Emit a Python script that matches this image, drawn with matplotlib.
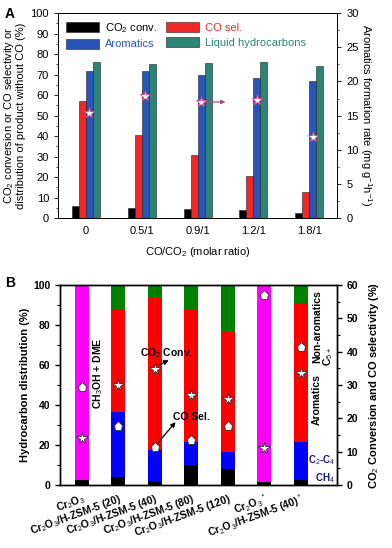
import matplotlib
matplotlib.use("Agg")
import matplotlib.pyplot as plt
import numpy as np
from matplotlib.ticker import MultipleLocator

plt.rcParams['font.family'] = ['Liberation Sans', 'DejaVu Sans']
plt.rcParams['mathtext.fontset'] = 'custom'
plt.rcParams['mathtext.rm'] = 'Liberation Sans'
plt.rcParams['mathtext.bf'] = 'Liberation Sans:bold'

# ---- panel A data ----
ratios = ['0', '0.5/1', '0.9/1', '1.2/1', '1.8/1']
co2_conv = [5.9, 4.9, 4.2, 3.9, 2.4]
co_sel = [57.0, 40.5, 30.6, 20.5, 12.7]
aromatics = [71.7, 71.6, 69.8, 68.3, 66.8]
liquid = [76.0, 75.4, 75.6, 76.0, 74.2]
arom_rate = [15.4, 17.8, 17.0, 17.3, 11.9]

# ---- panel B data ----
catalysts = ['Cr$_2$O$_3$', 'Cr$_2$O$_3$/H-ZSM-5 (20)', 'Cr$_2$O$_3$/H-ZSM-5 (40)',
             'Cr$_2$O$_3$/H-ZSM-5 (80)', 'Cr$_2$O$_3$/H-ZSM-5 (120)', 'Cr$_2$O$_3$$^*$',
             'Cr$_2$O$_3$/H-ZSM-5 (40)$^*$']
ch4 = [2.3, 3.8, 1.3, 9.8, 8.0, 1.4, 2.4]
c2c4 = [0, 32.8, 16.4, 11.5, 8.5, 0, 19.0]
arom_b = [0, 51.4, 76.0, 66.7, 60.0, 0, 69.6]
non_arom = [0, 12.0, 6.3, 12.0, 23.5, 0, 9.0]
meoh_dme = [97.7, 0, 0, 0, 0, 98.6, 0]
co2_conv_b = [14.1, 30.0, 34.8, 27.0, 25.8, 11.1, 33.6]
co_sel_b = [29.4, 17.7, 11.4, 13.5, 17.7, 57.0, 41.4]

fig = plt.figure(figsize=(3.92, 5.48), dpi=100)

# ================= panel A =================
axA = fig.add_axes([0.148, 0.602, 0.712, 0.374])
x = np.arange(len(ratios))
w = 0.125
cols = ['#000000', '#f02828', '#2a55b8', '#2b8474']
names = ['CO$_2$ conv.', 'CO sel.', 'Aromatics', 'Liquid hydrocarbons']
bars = []
for i, (vals, c, n) in enumerate(zip([co2_conv, co_sel, aromatics, liquid], cols, names)):
    bars.append(axA.bar(x + (i - 1.5) * w, vals, w, color=c, edgecolor='#202020',
                        linewidth=0.4, label=n))
axA.set_xlim(-0.5, 4.5)
axA.set_ylim(0, 100)
axA.set_xticks(x)
axA.set_xticklabels(ratios, fontsize=8)
axA.tick_params(axis='x', length=0, pad=6)
axA.yaxis.set_major_locator(MultipleLocator(10))
axA.yaxis.set_minor_locator(MultipleLocator(5))
axA.tick_params(axis='y', labelsize=8, length=3, width=0.6)
axA.tick_params(axis='y', which='minor', length=1.5, width=0.5)
axA.set_xlabel('CO/CO$_2$ (molar ratio)', fontsize=8, labelpad=6)
axA.set_ylabel('CO$_2$ conversion or CO selectivity or\ndistribution of product without CO (%)',
               fontsize=8, labelpad=3, linespacing=1.0)
order = [0, 2, 1, 3]
leg = axA.legend([bars[i] for i in order], [names[i] for i in order],
                 ncol=2, loc='upper left', frameon=False, fontsize=8,
                 handlelength=3.0, handleheight=1.0, columnspacing=0.8,
                 labelspacing=0.35, borderaxespad=0.3, handletextpad=0.5)
for t, i in zip(leg.get_texts(), order):
    t.set_color(cols[i])

axA2 = axA.twinx()
axA2.set_ylim(0, 30)
axA2.yaxis.set_major_locator(MultipleLocator(5))
axA2.yaxis.set_minor_locator(MultipleLocator(2.5))
axA2.tick_params(axis='y', labelsize=8, length=3, width=0.6)
axA2.tick_params(axis='y', which='minor', length=1.5, width=0.5)
axA2.plot(x + 0.5 * w, arom_rate, linestyle='none', marker='*', markersize=8,
          markerfacecolor='white', markeredgecolor='#d04a8a', markeredgewidth=0.7)
axA2.annotate('', xy=(2.55, arom_rate[2]), xytext=(2.1, arom_rate[2]),
              arrowprops=dict(arrowstyle='-|>', color='#a0508a', lw=0.9, mutation_scale=6))
axA2.set_ylabel('Aromatics formation rate (mg g$^{-1}$h$^{-1}$)', fontsize=8,
                rotation=270, labelpad=11)
for sp in list(axA.spines.values()) + list(axA2.spines.values()):
    sp.set_linewidth(0.6)
fig.text(0.012, 0.975, 'A', fontsize=10, fontweight='bold', va='center')

# ================= panel B =================
axB = fig.add_axes([0.153, 0.115, 0.707, 0.365])
xb = np.arange(len(catalysts))
wb = 0.39
bottom = np.zeros(len(catalysts))
for vals, c in [(ch4, '#000000'), (c2c4, '#0000ff'), (arom_b, '#ff0000'),
                (non_arom, '#008000'), (meoh_dme, '#ff00ff')]:
    axB.bar(xb, vals, wb, bottom=bottom, color=c, edgecolor='none', linewidth=0)
    bottom = bottom + np.array(vals)
axB.set_xlim(-0.6, 7.0)
axB.set_ylim(0, 100)
axB.yaxis.set_major_locator(MultipleLocator(20))
axB.yaxis.set_minor_locator(MultipleLocator(10))
axB.tick_params(axis='y', labelsize=7.5, length=3.5, width=1.0)
axB.tick_params(axis='y', which='minor', length=2, width=0.8)
for lab in axB.get_yticklabels():
    lab.set_fontweight('bold')
axB.set_xticks(xb)
axB.set_xticklabels(catalysts, rotation=20, ha='right', rotation_mode='anchor',
                    fontsize=7.5, fontweight='bold')
axB.tick_params(axis='x', length=0, pad=5)
axB.set_ylabel('Hydrocarbon distribution (%)', fontsize=8, fontweight='bold', labelpad=2)

axB2 = axB.twinx()
axB2.set_ylim(0, 60)
axB2.yaxis.set_major_locator(MultipleLocator(10))
axB2.yaxis.set_minor_locator(MultipleLocator(5))
axB2.tick_params(axis='y', labelsize=7.5, length=3.5, width=1.0)
axB2.tick_params(axis='y', which='minor', length=2, width=0.8)
for lab in axB2.get_yticklabels():
    lab.set_fontweight('bold')
axB2.set_ylabel('CO$_2$ Conversion and CO selectivity (%)', fontsize=8,
                fontweight='bold', rotation=90, labelpad=6)
axB2.plot(xb, co2_conv_b, linestyle='none', marker='*', markersize=8.5,
          markerfacecolor='white', markeredgecolor='#303030', markeredgewidth=0.6)
axB2.plot(xb, co_sel_b, linestyle='none', marker='p', markersize=6.5,
          markerfacecolor='white', markeredgecolor='#303030', markeredgewidth=0.6)
for sp in list(axB.spines.values()) + list(axB2.spines.values()):
    sp.set_linewidth(1.0)

axB2.text(0.45, 33.5, 'CH$_3$OH + DME', rotation=90, fontsize=7.5, fontweight='bold',
          ha='center', va='center')
axB2.text(1.6, 39.5, 'CO$_2$ Conv.', fontsize=7.5, fontweight='bold', ha='left', va='center')
axB2.annotate('', xy=(2.45, 37.8), xytext=(2.05, co2_conv_b[2] + 0.8),
              arrowprops=dict(arrowstyle='-|>', color='black', lw=0.9, mutation_scale=7))
axB2.text(2.5, 20.5, 'CO Sel.', fontsize=7.5, fontweight='bold', ha='left', va='center')
axB2.annotate('', xy=(2.62, 19.5), xytext=(2.05, co_sel_b[2] + 0.8),
              arrowprops=dict(arrowstyle='-|>', color='black', lw=0.9, mutation_scale=7))
axB2.text(6.45, 47.5, 'Non-aromatics', rotation=90, fontsize=7.5, fontweight='bold',
          ha='center', va='center')
axB2.text(6.75, 38.5, 'C$_{5+}$', rotation=90, fontsize=7.5, fontweight='bold',
          ha='center', va='center')
axB2.text(6.45, 25.5, 'Aromatics', rotation=90, fontsize=7.5, fontweight='bold',
          ha='center', va='center')
axB2.text(6.96, 7.5, 'C$_2$-C$_4$', fontsize=7, fontweight='bold', color='#1a1a80',
          ha='right', va='center')
axB2.text(6.93, 2.2, 'CH$_4$', fontsize=7, fontweight='bold', color='#1a1a80',
          ha='right', va='center')
fig.text(0.012, 0.483, 'B', fontsize=10, fontweight='bold', va='center')

fig.savefig('out.png', dpi=100)
